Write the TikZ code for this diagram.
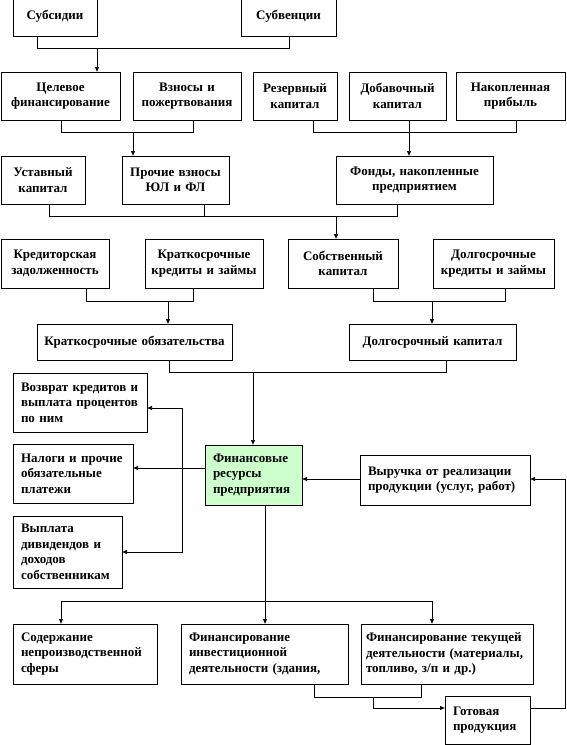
\documentclass[tikz,border=0pt]{standalone}
\usepackage{fontspec}
\setmainfont{Liberation Serif}
\usetikzlibrary{arrows.meta, positioning}

\tikzset{
  box/.style={draw, line width=0.6pt, inner xsep=5pt, inner ysep=0pt, outer sep=0pt,
    align=center, font=\fontsize{13}{15.5}\selectfont\bfseries},
  lbox/.style={box, inner xsep=8pt, align=left},
  link/.style={line width=0.6pt},
  arr/.style={link, -{Latex[length=5pt,width=4.5pt]}},
  arrr/.style={link, {Latex[length=5pt,width=4.5pt]}-{Latex[length=5pt,width=4.5pt]}}
}

\begin{document}
\begin{tikzpicture}[x=1pt, y=-1pt]
  \useasboundingbox (0,0) rectangle (566,745);
  \clip (0,0) rectangle (566,745);

  % sources
  \node[box, text width=74pt, minimum height=40pt, anchor=north west] (sub) at (13,-4) {Субсидии};
  \node[box, text width=85pt, minimum height=40pt, right=144pt of sub] (subv) {Субвенции};

  \node[box, text width=109pt, minimum height=48pt, anchor=north west] (celev) at (1,72) {Целевое\\финансирование};
  \node[box, text width=98pt, minimum height=48pt, right=13pt of celev] (vznos) {Взносы и\\пожертвования};
  \node[box, text width=74pt, minimum height=48pt, right=12pt of vznos] (rez) {Резервный\\капитал};
  \node[box, text width=87pt, minimum height=48pt, right=12pt of rez] (dobav) {Добавочный\\капитал};
  \node[box, text width=99pt, minimum height=48pt, right=10pt of dobav] (nakop) {Накопленная\\прибыль};

  \node[box, text width=74pt, minimum height=48pt, anchor=north west] (ustav) at (1,156) {Уставный\\капитал};
  \node[box, text width=97pt, minimum height=48pt, right=37pt of ustav] (proch) {Прочие взносы\\ЮЛ и ФЛ};
  \node[box, text width=147pt, minimum height=48pt, right=107pt of proch] (fondy) {Фонды, накопленные\\предприятием};

  \node[box, text width=98pt, minimum height=49pt, anchor=north west] (kredit) at (1,239) {Кредиторская\\задолженность};
  \node[box, text width=108pt, minimum height=49pt, right=36pt of kredit] (kratkr) {Краткосрочные\\кредиты и займы};
  \node[box, text width=100pt, minimum height=49pt, right=25pt of kratkr] (sobstv) {Собственный\\капитал};
  \node[box, text width=111pt, minimum height=49pt, right=35pt of sobstv] (dolgkr) {Долгосрочные\\кредиты и займы};

  \node[box, text width=185pt, minimum height=36pt, anchor=north west] (kratob) at (37,324) {Краткосрочные обязательства};
  \node[box, text width=157pt, minimum height=36pt, right=117pt of kratob] (dolgkap) {Долгосрочный капитал};

  % uses
  \node[lbox, text width=118pt, minimum height=59pt, anchor=north west] (vozvr) at (13,373) {Возврат кредитов и\\выплата процентов\\по ним};
  \node[lbox, text width=104pt, minimum height=59pt, anchor=north west] (nalog) at (13,444) {Налоги и прочие\\обязательные\\платежи};
  \node[lbox, text width=93pt, minimum height=72pt, anchor=north west] (vyplat) at (13,516) {Выплата\\дивидендов и\\доходов\\собственникам};
  \node[lbox, fill={rgb,255:red,204;green,255;blue,204}, text width=81pt, minimum height=60pt, anchor=north west] (finres) at (205,445) {Финансовые\\ресурсы\\предприятия};
  \node[lbox, text width=154pt, minimum height=50pt, anchor=north west] (vyruch) at (360,455) {Выручка от реализации\\продукции (услуг, работ)};

  \node[lbox, text width=128pt, minimum height=60pt, anchor=north west] (soderzh) at (13,624) {Содержание\\непроизводственной\\сферы};
  \node[lbox, text width=151pt, minimum height=60pt, anchor=north west] (invest) at (181,624) {Финансирование\\инвестиционной\\деятельности (здания,};
  \node[lbox, inner xsep=5pt, text width=162pt, minimum height=60pt, anchor=north west] (tekusch) at (361,624) {Финансирование текущей\\деятельности (материалы,\\топливо, з/п и др.)};
  \node[lbox, text width=69pt, minimum height=48pt, anchor=north west] (gotov) at (445,696) {Готовая\\продукция};

  % bus points
  \coordinate (b1l) at (37,48);   \coordinate (b1r) at (289,48);  \coordinate (b1) at (97,48);
  \coordinate (b2l) at (61,132);  \coordinate (b2r) at (193,132); \coordinate (b2) at (133,132);
  \coordinate (b3l) at (313,132); \coordinate (b3r) at (516,132); \coordinate (b3) at (409,132);
  \coordinate (b4l) at (49,216);  \coordinate (b4r) at (397,216); \coordinate (b4m) at (204,216);
  \coordinate (b4) at (336,216);
  \coordinate (b5l) at (86,301);  \coordinate (b5r) at (193,301); \coordinate (b5) at (168,301);
  \coordinate (b6l) at (373,301); \coordinate (b6r) at (505,301); \coordinate (b6) at (432,301);
  \coordinate (b7l) at (169,372); \coordinate (b7r) at (446,372); \coordinate (b7) at (253,372);
  \coordinate (b8t) at (182,408); \coordinate (b8m) at (182,468); \coordinate (b8b) at (182,552);
  \coordinate (b9) at (330,479);  \coordinate (b10) at (565,479); \coordinate (b10b) at (565,708);
  \coordinate (b11l) at (61,601); \coordinate (b11r) at (432,601); \coordinate (b11) at (265,601);
  \coordinate (b12l) at (314,697); \coordinate (b12r) at (421,697); \coordinate (b12) at (373,697);
  \coordinate (b12d) at (373,708);

  % connectors
  \draw[link] (sub.south -| b1l) -- (b1l) -- (b1r) -- (subv.south -| b1r);
  \draw[arr] (b1) -- (celev.north -| b1);

  \draw[link] (celev.south -| b2l) -- (b2l) -- (b2r) -- (vznos.south -| b2r);
  \draw[arr] (b2) -- (proch.north -| b2);

  \draw[link] (rez.south -| b3l) -- (b3l) -- (b3r) -- (nakop.south -| b3r);
  \draw[arr] (dobav.south -| b3) -- (fondy.north -| b3);

  \draw[link] (ustav.south -| b4l) -- (b4l) -- (b4r) -- (fondy.south -| b4r);
  \draw[link] (proch.south -| b4m) -- (b4m);
  \draw[arr] (b4) -- (sobstv.north -| b4);

  \draw[link] (kredit.south -| b5l) -- (b5l) -- (b5r) -- (kratkr.south -| b5r);
  \draw[arr] (b5) -- (kratob.north -| b5);

  \draw[link] (sobstv.south -| b6l) -- (b6l) -- (b6r) -- (dolgkr.south -| b6r);
  \draw[arr] (b6) -- (dolgkap.north -| b6);

  \draw[link] (kratob.south -| b7l) -- (b7l) -- (b7r) -- (dolgkap.south -| b7r);
  \draw[arr] (b7) -- (finres.north -| b7);

  \draw[arr] (finres.west |- b8m) -- (nalog.east |- b8m);
  \draw[arrr] (vozvr.east |- b8t) -- (b8t) -- (b8b) -- (vyplat.east |- b8b);

  \draw[arr] (vyruch.west |- b9) -- (finres.east |- b9);
  \draw[arr] (gotov.east |- b10b) -- (b10b) -- (b10) -- (vyruch.east |- b10);

  \draw[arrr] (soderzh.north -| b11l) -- (b11l) -- (b11r) -- (tekusch.north -| b11r);
  \draw[arr] (finres.south -| b11) -- (invest.north -| b11);

  \draw[link] (invest.south -| b12l) -- (b12l) -- (b12r) -- (tekusch.south -| b12r);
  \draw[arr] (b12) -- (b12d) -- (gotov.west |- b12d);
\end{tikzpicture}
\end{document}
